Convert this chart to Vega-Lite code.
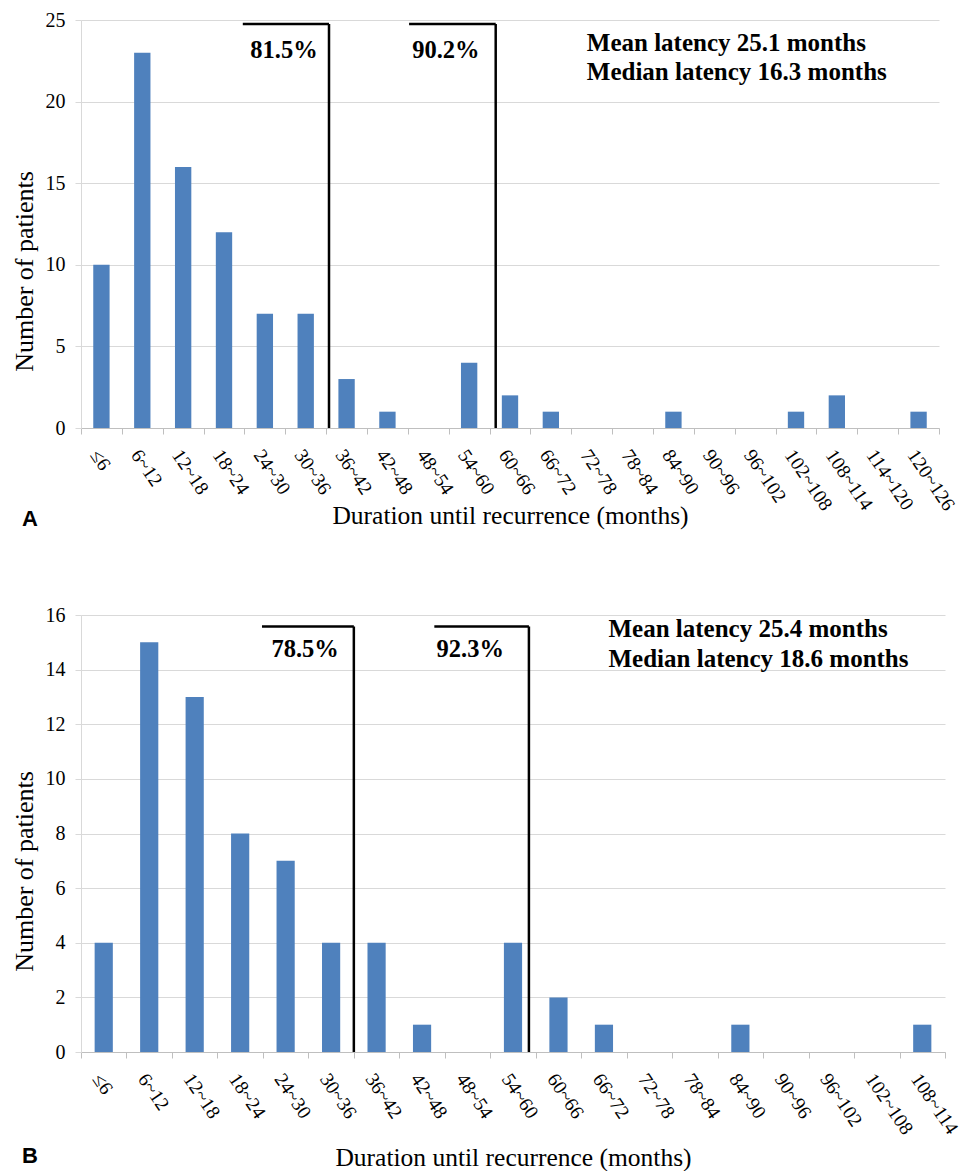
{
  "$schema": "https://vega.github.io/schema/vega-lite/v6.json",
  "background": "white",
  "padding": {"left": 11, "top": 10, "right": 4, "bottom": 0},
  "spacing": 74,
  "config": {
    "view": {"stroke": null},
    "font": "Liberation Serif",
    "axis": {
      "labelFont": "Liberation Serif",
      "titleFont": "Liberation Serif",
      "labelColor": "#000000",
      "titleColor": "#000000",
      "titleFontWeight": "normal"
    },
    "title": {"font": "Liberation Sans", "fontWeight": "bold", "fontSize": 22, "color": "#000000"}
  },
  "datasets": {
    "a": [
      {"bin": "≤6", "n": 10}, {"bin": "6~12", "n": 23}, {"bin": "12~18", "n": 16}, {"bin": "18~24", "n": 12},
      {"bin": "24~30", "n": 7}, {"bin": "30~36", "n": 7}, {"bin": "36~42", "n": 3}, {"bin": "42~48", "n": 1},
      {"bin": "48~54", "n": 0}, {"bin": "54~60", "n": 4}, {"bin": "60~66", "n": 2}, {"bin": "66~72", "n": 1},
      {"bin": "72~78", "n": 0}, {"bin": "78~84", "n": 0}, {"bin": "84~90", "n": 1}, {"bin": "90~96", "n": 0},
      {"bin": "96~102", "n": 0}, {"bin": "102~108", "n": 1}, {"bin": "108~114", "n": 2}, {"bin": "114~120", "n": 0},
      {"bin": "120~126", "n": 1}
    ],
    "b": [
      {"bin": "≤6", "n": 4}, {"bin": "6~12", "n": 15}, {"bin": "12~18", "n": 13}, {"bin": "18~24", "n": 8},
      {"bin": "24~30", "n": 7}, {"bin": "30~36", "n": 4}, {"bin": "36~42", "n": 4}, {"bin": "42~48", "n": 1},
      {"bin": "48~54", "n": 0}, {"bin": "54~60", "n": 4}, {"bin": "60~66", "n": 2}, {"bin": "66~72", "n": 1},
      {"bin": "72~78", "n": 0}, {"bin": "78~84", "n": 0}, {"bin": "84~90", "n": 1}, {"bin": "90~96", "n": 0},
      {"bin": "96~102", "n": 0}, {"bin": "102~108", "n": 0}, {"bin": "108~114", "n": 1}
    ],
    "a_lines": [
      {"x": 3.96, "x2": 6.07, "y": 24.76, "y2": 24.76},
      {"x": 6.07, "x2": 6.07, "y": 24.76, "y2": 0},
      {"x": 8.03, "x2": 10.15, "y": 24.76, "y2": 24.76},
      {"x": 10.15, "x2": 10.15, "y": 24.76, "y2": 0}
    ],
    "a_pct": [
      {"x": 4.97, "y": 23.1, "label": "81.5%"},
      {"x": 8.93, "y": 23.1, "label": "90.2%"}
    ],
    "a_note": [
      {"x": 12.38, "y": 23.6, "label": "Mean latency 25.1 months"},
      {"x": 12.38, "y": 21.8, "label": "Median latency 16.3 months"}
    ],
    "b_lines": [
      {"x": 3.98, "x2": 6.0, "y": 15.58, "y2": 15.58},
      {"x": 6.0, "x2": 6.0, "y": 15.58, "y2": 0},
      {"x": 7.77, "x2": 9.85, "y": 15.58, "y2": 15.58},
      {"x": 9.85, "x2": 9.85, "y": 15.58, "y2": 0}
    ],
    "b_pct": [
      {"x": 4.93, "y": 14.72, "label": "78.5%"},
      {"x": 8.56, "y": 14.72, "label": "92.3%"}
    ],
    "b_note": [
      {"x": 11.6, "y": 15.5, "label": "Mean latency 25.4 months"},
      {"x": 11.6, "y": 14.4, "label": "Median latency 18.6 months"}
    ]
  },
  "vconcat": [
    {
      "width": 858,
      "height": 408,
      "title": {"text": "A", "orient": "bottom", "anchor": "start", "frame": "bounds", "offset": -20, "dx": 11},
      "resolve": {"scale": {"x": "independent"}},
      "layer": [
        {
          "data": {"name": "a"},
          "mark": {"type": "bar", "width": {"band": 0.4}, "color": "#4F81BD"},
          "encoding": {
            "x": {
              "field": "bin", "type": "ordinal", "sort": null,
              "scale": {"paddingInner": 0, "paddingOuter": 0},
              "axis": {
                "title": "Duration until recurrence (months)", "titleFontSize": 25.5, "titlePadding": -10,
                "titleFont": "Liberation Serif", "labelFont": "Liberation Serif",
                "labelAngle": 56, "labelAlign": "left", "labelBaseline": "top", "labelFontSize": 19.5, "labelPadding": 12,
                "tickBand": "extent", "tickSize": 6, "tickColor": "#bfbfbf", "domainColor": "#bfbfbf", "grid": false
              }
            },
            "y": {
              "field": "n", "type": "quantitative",
              "scale": {"domain": [0, 25], "nice": false},
              "axis": {
                "title": "Number of patients", "titleFontSize": 26, "titlePadding": 8, "titleY": 251,
                "titleFont": "Liberation Serif", "labelFont": "Liberation Serif",
                "values": [0, 5, 10, 15, 20, 25], "labelFontSize": 20, "labelPadding": 10,
                "grid": true, "gridColor": "#d9d9d9", "tickColor": "#d9d9d9", "tickSize": 6,
                "domainColor": "#d9d9d9"
              }
            }
          }
        },
        {
          "data": {"name": "a_lines"},
          "mark": {"type": "rule", "color": "#000000", "strokeWidth": 2.5},
          "encoding": {
            "x": {"field": "x", "type": "quantitative", "scale": {"domain": [0, 21], "nice": false, "zero": false}, "axis": null},
            "x2": {"field": "x2"},
            "y": {"field": "y", "type": "quantitative"},
            "y2": {"field": "y2"}
          }
        },
        {
          "data": {"name": "a_pct"},
          "mark": {"type": "text", "font": "Liberation Serif", "fontWeight": "bold", "fontSize": 24.5, "align": "center", "baseline": "middle", "color": "#000000"},
          "encoding": {
            "x": {"field": "x", "type": "quantitative", "scale": {"domain": [0, 21], "nice": false, "zero": false}, "axis": null},
            "y": {"field": "y", "type": "quantitative"},
            "text": {"field": "label"}
          }
        },
        {
          "data": {"name": "a_note"},
          "mark": {"type": "text", "font": "Liberation Serif", "fontWeight": "bold", "fontSize": 25, "align": "left", "baseline": "middle", "color": "#000000"},
          "encoding": {
            "x": {"field": "x", "type": "quantitative", "scale": {"domain": [0, 21], "nice": false, "zero": false}, "axis": null},
            "y": {"field": "y", "type": "quantitative"},
            "text": {"field": "label"}
          }
        }
      ]
    },
    {
      "width": 864,
      "height": 437,
      "title": {"text": "B", "orient": "bottom", "anchor": "start", "frame": "bounds", "offset": -25, "dx": 11},
      "resolve": {"scale": {"x": "independent"}},
      "layer": [
        {
          "data": {"name": "b"},
          "mark": {"type": "bar", "width": {"band": 0.4}, "color": "#4F81BD"},
          "encoding": {
            "x": {
              "field": "bin", "type": "ordinal", "sort": null,
              "scale": {"paddingInner": 0, "paddingOuter": 0},
              "axis": {
                "title": "Duration until recurrence (months)", "titleFontSize": 25.5, "titlePadding": 8,
                "titleFont": "Liberation Serif", "labelFont": "Liberation Serif",
                "labelAngle": 56, "labelAlign": "left", "labelBaseline": "top", "labelFontSize": 19.5, "labelPadding": 12,
                "tickBand": "extent", "tickSize": 6, "tickColor": "#bfbfbf", "domainColor": "#bfbfbf", "grid": false
              }
            },
            "y": {
              "field": "n", "type": "quantitative",
              "scale": {"domain": [0, 16], "nice": false},
              "axis": {
                "title": "Number of patients", "titleFontSize": 26, "titlePadding": 8, "titleY": 256,
                "titleFont": "Liberation Serif", "labelFont": "Liberation Serif",
                "values": [0, 2, 4, 6, 8, 10, 12, 14, 16], "labelFontSize": 20, "labelPadding": 10,
                "grid": true, "gridColor": "#d9d9d9", "tickColor": "#d9d9d9", "tickSize": 6,
                "domainColor": "#d9d9d9"
              }
            }
          }
        },
        {
          "data": {"name": "b_lines"},
          "mark": {"type": "rule", "color": "#000000", "strokeWidth": 2.5},
          "encoding": {
            "x": {"field": "x", "type": "quantitative", "scale": {"domain": [0, 19], "nice": false, "zero": false}, "axis": null},
            "x2": {"field": "x2"},
            "y": {"field": "y", "type": "quantitative"},
            "y2": {"field": "y2"}
          }
        },
        {
          "data": {"name": "b_pct"},
          "mark": {"type": "text", "font": "Liberation Serif", "fontWeight": "bold", "fontSize": 24.5, "align": "center", "baseline": "middle", "color": "#000000"},
          "encoding": {
            "x": {"field": "x", "type": "quantitative", "scale": {"domain": [0, 19], "nice": false, "zero": false}, "axis": null},
            "y": {"field": "y", "type": "quantitative"},
            "text": {"field": "label"}
          }
        },
        {
          "data": {"name": "b_note"},
          "mark": {"type": "text", "font": "Liberation Serif", "fontWeight": "bold", "fontSize": 25, "align": "left", "baseline": "middle", "color": "#000000"},
          "encoding": {
            "x": {"field": "x", "type": "quantitative", "scale": {"domain": [0, 19], "nice": false, "zero": false}, "axis": null},
            "y": {"field": "y", "type": "quantitative"},
            "text": {"field": "label"}
          }
        }
      ]
    }
  ]
}
